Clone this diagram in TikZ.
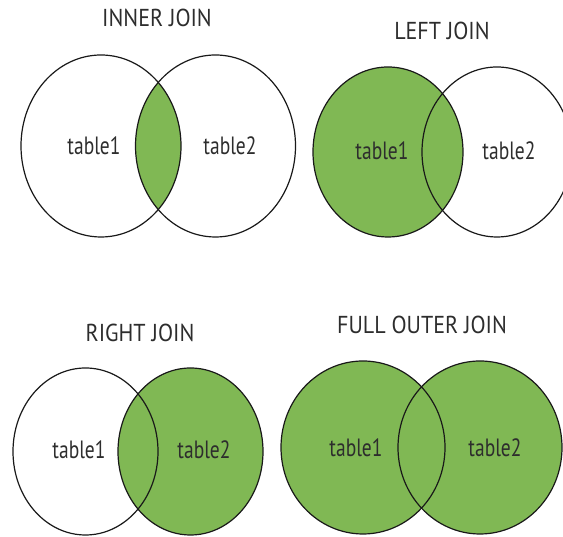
\documentclass[tikz,border=0pt]{standalone}
\usepackage{fontspec}
\usepackage{graphicx}
\setmainfont{PT Sans}
\definecolor{jgreen}{RGB}{128,184,84}
\definecolor{jtext}{RGB}{45,45,45}
\newcommand{\tlbl}[1]{\scalebox{0.78}[1]{\fontsize{25}{25}\selectfont #1}}
\newcommand{\ttl}[1]{\scalebox{0.9}[1]{\fontsize{24.5}{24.5}\selectfont #1}}
\begin{document}
\begin{tikzpicture}[x=1pt,y=1pt,
  setline/.style={draw=black!90,line width=1.2pt},
  setfill/.style={fill=jgreen},
  lbl/.style={anchor=base,inner sep=0pt,text=jtext},
  ttlnode/.style={anchor=base,inner sep=0pt,text=jtext}]
\useasboundingbox (0,0) rectangle (563,537);
\begin{scope}
\clip (0,0) rectangle (563,537);
% INNER JOIN
\coordinate (iL) at (101,391);
\coordinate (iR) at (215.5,391);
\begin{scope}
  \clip (iL) ellipse [x radius=80pt, y radius=91pt];
  \fill[jgreen] (iR) ellipse [x radius=80pt, y radius=91pt];
\end{scope}
\draw[setline] (iL) ellipse [x radius=80pt, y radius=91pt];
\draw[setline] (iR) ellipse [x radius=80pt, y radius=91pt];
\node[ttlnode] (tInner) at (157,510) {\ttl{INNER JOIN}};
\node[lbl] (iT1) at (94,382) {\tlbl{table1}};
\node[lbl] (iT2) at (230,382) {\tlbl{table2}};
% LEFT JOIN
\coordinate (lL) at (388,385);
\coordinate (lR) at (497,385);
\fill[jgreen] (lL) ellipse [x radius=75pt, y radius=85pt];
\draw[setline] (lL) ellipse [x radius=75pt, y radius=85pt];
\draw[setline] (lR) ellipse [x radius=75pt, y radius=85pt];
\node[ttlnode] (tLeft) at (442,497) {\ttl{LEFT JOIN}};
\node[lbl] (lT1) at (382,377) {\tlbl{table1}};
\node[lbl] (lT2) at (509,377) {\tlbl{table2}};
% RIGHT JOIN
\coordinate (rL) at (85.5,85.5);
\coordinate (rR) at (190.5,85.5);
\fill[jgreen] (rR) ellipse [x radius=72.5pt, y radius=83.5pt];
\draw[setline] (rL) ellipse [x radius=72.5pt, y radius=83.5pt];
\draw[setline] (rR) ellipse [x radius=72.5pt, y radius=83.5pt];
\node[ttlnode] (tRight) at (140,195) {\ttl{RIGHT JOIN}};
\node[lbl] (rT1) at (79,78) {\tlbl{table1}};
\node[lbl] (rT2) at (204,78) {\tlbl{table2}};
% FULL OUTER JOIN
\coordinate (fL) at (363,89.5);
\coordinate (fR) at (480,89.5);
\fill[jgreen] (fL) ellipse [x radius=82pt, y radius=86.5pt];
\fill[jgreen] (fR) ellipse [x radius=82pt, y radius=86.5pt];
\draw[setline] (fL) ellipse [x radius=82pt, y radius=86.5pt];
\draw[setline] (fR) ellipse [x radius=82pt, y radius=86.5pt];
\node[ttlnode] (tFull) at (422,203) {\ttl{FULL OUTER JOIN}};
\node[lbl] (fT1) at (356,80) {\tlbl{table1}};
\node[lbl] (fT2) at (495,80) {\tlbl{table2}};
\end{scope}
\end{tikzpicture}
\end{document}
